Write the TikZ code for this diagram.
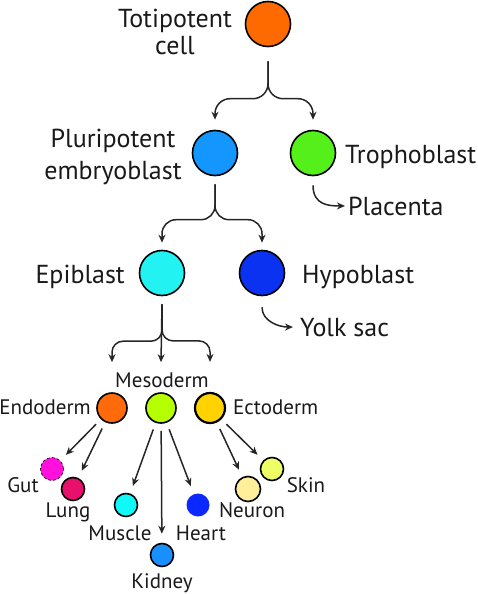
\documentclass[tikz,border=0pt]{standalone}
\usepackage{fontspec}
\setmainfont{PT Sans}
\usetikzlibrary{arrows.meta,calc}

\definecolor{totiorange}{HTML}{FF6A00}
\definecolor{pluriblue}{HTML}{1496FF}
\definecolor{trophgreen}{HTML}{55F01A}
\definecolor{epicyan}{HTML}{22F2F2}
\definecolor{hypoblue}{HTML}{0A32F0}
\definecolor{endoorange}{HTML}{FF6A0A}
\definecolor{mesolime}{HTML}{B5FF00}
\definecolor{ectogold}{HTML}{FFD200}
\definecolor{gutpink}{HTML}{FF10DD}
\definecolor{lungred}{HTML}{E8106A}
\definecolor{musclecyan}{HTML}{10F8F8}
\definecolor{kidneyblue}{HTML}{1890FF}
\definecolor{heartblue}{HTML}{0A28FF}
\definecolor{neuronyellow}{HTML}{FFEE9A}
\definecolor{skinyellow}{HTML}{EEFF66}

\begin{document}
\begin{tikzpicture}[x=1pt, y=-1pt,
  cell/.style={circle, draw=black, line width=1.6pt, inner sep=0pt},
  bigcell/.style={cell, minimum size=45pt},
  midcell/.style={cell, minimum size=30pt},
  tinycell/.style={cell, minimum size=23pt},
  biglbl/.style={inner sep=0pt, text=black!90, font=\fontsize{26}{29}\selectfont},
  smalllbl/.style={inner sep=0pt, text=black!90, font=\fontsize{21}{24}\selectfont},
  arr/.style={-{Stealth[length=8pt,width=7pt]}, line width=1.5pt, black!85},
  ray/.style={arr, shorten <=7pt, shorten >=8pt},
]
  \useasboundingbox (0,0) rectangle (478,594);

  % cells
  \node[bigcell, fill=totiorange] (toti) at (268,24) {};
  \node[bigcell, fill=pluriblue] (pluri) at (215,153) {};
  \node[bigcell, fill=trophgreen] (troph) at (313,153) {};
  \node[bigcell, fill=epicyan] (epi) at (162,273) {};
  \node[bigcell, fill=hypoblue] (hypo) at (262,273) {};
  \node[midcell, fill=endoorange] (endo) at (112,408) {};
  \node[midcell, fill=mesolime] (meso) at (161,408) {};
  \node[midcell, fill=ectogold, line width=2.2pt] (ecto) at (210,408) {};
  \node[tinycell, fill=gutpink, line width=0.6pt, densely dashed] (gut) at (52,469) {};
  \node[tinycell, fill=lungred] (lung) at (73,489) {};
  \node[tinycell, fill=musclecyan] (muscle) at (126,505) {};
  \node[tinycell, fill=kidneyblue] (kidney) at (162,555) {};
  \node[tinycell, fill=heartblue, draw=none] (heart) at (198,505) {};
  \node[tinycell, fill=neuronyellow, minimum size=25pt] (neuron) at (248,489) {};
  \node[tinycell, fill=skinyellow] (skin) at (272,469) {};

  % labels
  \node[biglbl, anchor=base, align=center] (totilbl) at (175,55) {Totipotent\\[-2pt]cell};
  \node[biglbl, anchor=base, align=center] (plurilbl) at (113,179) {Pluripotent\\[3pt]embryoblast};
  \node[biglbl, anchor=base west] (trophlbl) at (345,163) {Trophoblast};
  \node[biglbl, anchor=base west] (placentalbl) at (348,215) {Placenta};
  \node[biglbl, anchor=base east] (epilbl) at (125,283) {Epiblast};
  \node[biglbl, anchor=base west] (hypolbl) at (302,283) {Hypoblast};
  \node[biglbl, anchor=base west] (yolklbl) at (300,336) {Yolk sac};
  \node[smalllbl, anchor=base] (mesolbl) at (162,387) {Mesoderm};
  \node[smalllbl, anchor=base east] (endolbl) at (91,414) {Endoderm};
  \node[smalllbl, anchor=base west] (ectolbl) at (233,414) {Ectoderm};
  \node[smalllbl, anchor=base] (gutlbl) at (23,492) {Gut};
  \node[smalllbl, anchor=base] (lunglbl) at (68,517) {Lung};
  \node[smalllbl, anchor=base] (musclelbl) at (120,540) {Muscle};
  \node[smalllbl, anchor=base] (heartlbl) at (201,540) {Heart};
  \node[smalllbl, anchor=base] (kidneylbl) at (162,588) {Kidney};
  \node[smalllbl, anchor=base] (neuronlbl) at (252,517) {Neuron};
  \node[smalllbl, anchor=base] (skinlbl) at (306,492) {Skin};

  % forks
  \draw[arr, rounded corners=15pt] (toti.south) ++(0,14) |- ($(pluri.north)+(0,-31)$) -- ([yshift=10pt]pluri.north);
  \draw[arr, rounded corners=15pt] (toti.south) ++(0,14) |- ($(troph.north)+(0,-31)$) -- ([yshift=10pt]troph.north);
  \draw[arr, rounded corners=14pt] (pluri.south) ++(0,8) |- ($(epi.north)+(0,-30)$) -- ([yshift=7pt]epi.north);
  \draw[arr, rounded corners=14pt] (pluri.south) ++(0,8) |- ($(hypo.north)+(0,-30)$) -- ([yshift=7pt]hypo.north);
  \draw[arr, rounded corners=11pt] (epi.south) ++(0,8) |- ($(endo.north)+(0,-51)$) -- ([yshift=30pt]endo.north);
  \draw[arr, rounded corners=11pt] (epi.south) ++(0,8) |- ($(ecto.north)+(0,-51)$) -- ([yshift=30pt]ecto.north);
  \draw[arr] (epi.south) ++(0,8) -- ([yshift=30pt]meso.north);

  % side branches
  \draw[arr] ([yshift=-9pt]troph.south) .. controls +(0,20) and +(-16,0) .. ([xshift=-3pt]placentalbl.west);
  \draw[arr] ([yshift=-11pt]hypo.south) .. controls +(0,14) and +(-14,0) .. ([xshift=-7pt]yolklbl.west);

  % germ layers
  \draw[ray] (endo) -- (gut);
  \draw[ray] (endo) -- (lung);
  \draw[ray] (meso) -- (muscle);
  \draw[ray, shorten >=9pt] (meso) -- (kidney);
  \draw[ray] (meso) -- (heart);
  \draw[ray] (ecto) -- (neuron);
  \draw[ray] (ecto) -- (skin);
\end{tikzpicture}
\end{document}
